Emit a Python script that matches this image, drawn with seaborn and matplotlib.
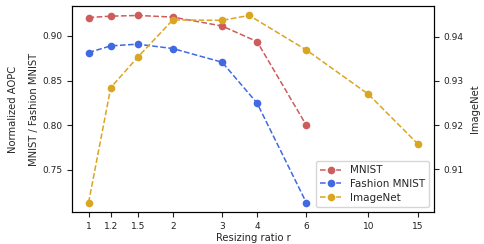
import numpy as np
import pandas as pd
import seaborn as sns
import matplotlib
matplotlib.use("Agg")
import matplotlib.pyplot as plt

# values
ratios = [1, 1.2, 1.5, 2, 3, 4, 6]
mnist = [0.9205, 0.922, 0.9228, 0.921, 0.911, 0.8936, 0.800]
fashion = [0.8813, 0.8888, 0.8907, 0.8858, 0.8705, 0.8248, 0.7134]
imagenet_ratios = [1, 1.2, 1.5, 2, 3, 3.75, 6, 10, 15]
imagenet = [0.9025, 0.9285, 0.9354, 0.9438, 0.9437, 0.9448, 0.937, 0.927, 0.9158]
xticks = [1, 1.2, 1.5, 2, 3, 4, 6, 10, 15]
xticklabels = ['1', '1.2', '1.5', '2', '3', '4', '6', '10', '15']

sns.set_style("ticks")
plt.rcParams['font.family'] = ['DejaVu Sans']
plt.rcParams['font.size'] = 6.5

fig, ax = plt.subplots(figsize=(4.84, 2.44), dpi=100)
ax2 = ax.twinx()

style = dict(marker='o', linestyle='--', markersize=5.5, markeredgewidth=0, linewidth=1.1)
sns.lineplot(x=ratios, y=mnist, ax=ax, color='indianred', label='MNIST', **style)
sns.lineplot(x=ratios, y=fashion, ax=ax, color='royalblue', label='Fashion MNIST', **style)
sns.lineplot(x=imagenet_ratios, y=imagenet, ax=ax2, color='goldenrod', label='ImageNet', **style)

ax.set_xscale('log')
ax.set_xticks(xticks)
ax.set_xticklabels(xticklabels)
ax.xaxis.set_minor_locator(matplotlib.ticker.NullLocator())

ax.set_yticks([0.75, 0.80, 0.85, 0.90])
ax2.set_yticks([0.91, 0.92, 0.93, 0.94])
ax.set_xlabel('Resizing ratio r', fontsize=7.2, labelpad=1.5)
ax.set_ylabel('Normalized AOPC\nMNIST / Fashion MNIST', fontsize=7.2, linespacing=2.4, labelpad=2.5)
ax2.set_ylabel('ImageNet', fontsize=7.2, labelpad=4)

for a in (ax, ax2):
    for s in a.spines.values():
        s.set_visible(True)
        s.set_color('black')
        s.set_linewidth(0.8)
    a.tick_params(colors='#222222', labelsize=6.5, length=3.5, width=0.8)

h1, l1 = ax.get_legend_handles_labels()
h2, l2 = ax2.get_legend_handles_labels()
ax2.get_legend().remove()
ax.legend(h1 + h2, l1 + l2, loc='lower right', fontsize=7.5, handlelength=2, labelspacing=0.35)

fig.subplots_adjust(left=0.149, right=0.897, top=0.975, bottom=0.131)
fig.savefig('out.png', dpi=100)
